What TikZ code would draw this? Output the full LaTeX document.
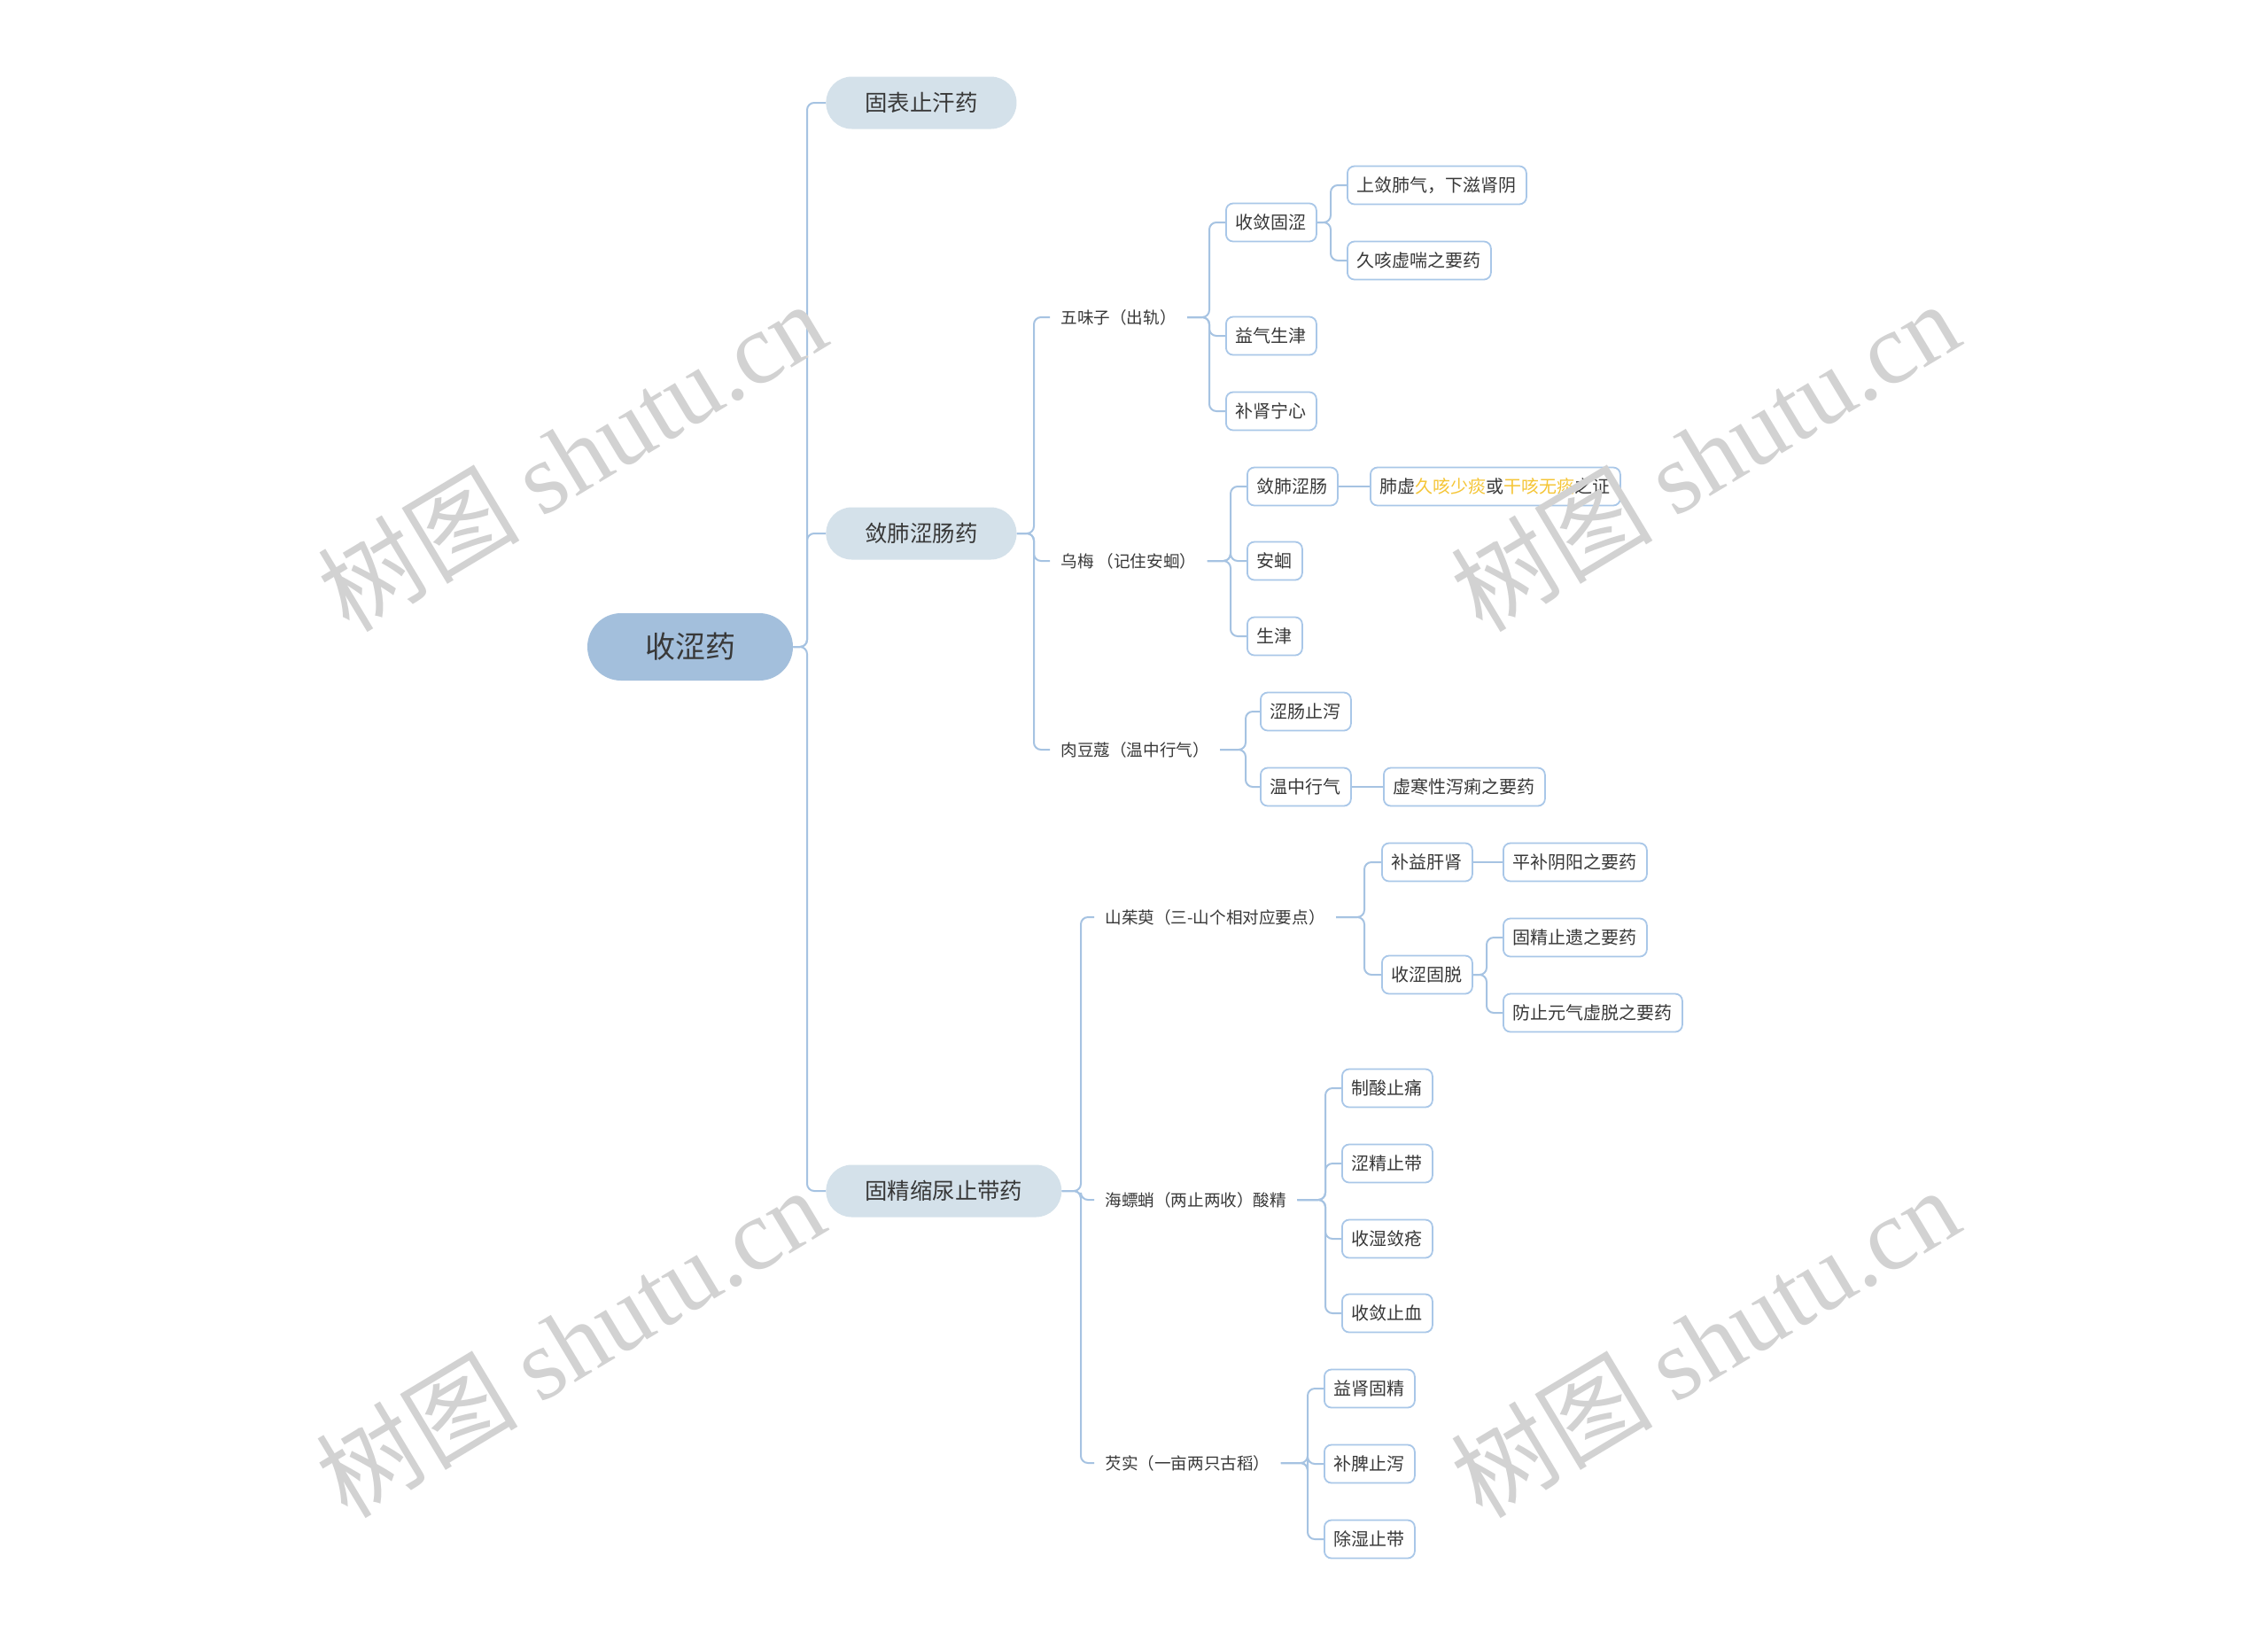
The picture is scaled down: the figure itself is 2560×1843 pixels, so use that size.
\documentclass[tikz,border=0pt]{standalone}
\usepackage{fontspec}
\setmainfont{Noto Sans CJK SC}
\newfontfamily\wmserif{Liberation Serif}
\usepackage{tikz}
\usetikzlibrary{positioning}

\definecolor{rootfill}{HTML}{A3BFDC}
\definecolor{topicfill}{HTML}{D4E1EA}
\definecolor{linkblue}{HTML}{A6C3E2}
\definecolor{boxline}{HTML}{A9C7E8}
\definecolor{inkgray}{HTML}{383838}
\definecolor{hilite}{HTML}{F5C535}
\definecolor{wmgray}{HTML}{D2D2D2}

\tikzset{
  rootnode/.style={fill=rootfill, rounded corners=19pt, minimum width=116pt,
    minimum height=38pt, text=inkgray, font=\fontsize{17pt}{20pt}\selectfont},
  topic/.style={fill=topicfill, rounded corners=14.5pt, minimum height=29.5pt,
    inner xsep=22pt, text=inkgray, font=\fontsize{12.7pt}{15pt}\selectfont},
  subtopic/.style={inner xsep=6pt, inner ysep=2pt, text=inkgray,
    font=\fontsize{9.3pt}{11pt}\selectfont},
  leaf/.style={draw=boxline, line width=0.9pt, fill=white, rounded corners=4pt,
    minimum height=21.5pt, inner xsep=5.5pt, text=inkgray,
    font=\fontsize{10pt}{12pt}\selectfont},
  link/.style={draw=linkblue, line width=1pt, rounded corners=4pt},
  wmark/.style={text=wmgray, rotate=31, font=\fontsize{57pt}{64pt}\selectfont}
}

\begin{document}
\begin{tikzpicture}[x=0.5pt, y=-0.5pt]
  \useasboundingbox[fill=white] (0,0) rectangle (2560,1843);

  % root and main branches
  \node[rootnode] (shese) at (779,730) {收涩药};
  \node[topic, anchor=west] (gubiao) at (932,116) {固表止汗药};
  \node[topic, anchor=west] (lianfei) at (932,602) {敛肺涩肠药};
  \node[topic, anchor=west] (gujing) at (932,1344) {固精缩尿止带药};

  % 敛肺涩肠药
  \node[subtopic, anchor=west] (wuwei) at (1185,358) {五味子（出轨）};
  \node[subtopic, anchor=west] (wumei) at (1185,633) {乌梅 （记住安蛔）};
  \node[subtopic, anchor=west] (roudou) at (1185,846) {肉豆蔻（温中行气）};

  \node[leaf, anchor=west] (shoulian) at (1383,251) {收敛固涩};
  \node[leaf, anchor=west] (yiqi) at (1383,379) {益气生津};
  \node[leaf, anchor=west] (bushen) at (1383,464) {补肾宁心};
  \node[leaf, anchor=west] (shangl) at (1520,209) {上敛肺气，下滋肾阴};
  \node[leaf, anchor=west] (jiuke) at (1520,294) {久咳虚喘之要药};

  \node[leaf, anchor=west] (lianchang) at (1407,549) {敛肺涩肠};
  \node[leaf, anchor=west] (anhui) at (1407,633) {安蛔};
  \node[leaf, anchor=west] (shengjin) at (1407,718) {生津};
  \node[leaf, anchor=west] (feixu) at (1546,549)
    {肺虚{\color{hilite}久咳少痰}或{\color{hilite}干咳无痰}之证};

  \node[leaf, anchor=west] (sechang) at (1422,803) {涩肠止泻};
  \node[leaf, anchor=west] (wenzhong) at (1422,888) {温中行气};
  \node[leaf, anchor=west] (xuhan) at (1561,888) {虚寒性泻痢之要药};

  % 固精缩尿止带药
  \node[subtopic, anchor=west] (shanzhu) at (1235,1035) {山茱萸（三-山个相对应要点）};
  \node[subtopic, anchor=west] (haipiao) at (1235,1354) {海螵蛸（两止两收）酸精};
  \node[subtopic, anchor=west] (qianshi) at (1235,1651) {芡实（一亩两只古稻）};

  \node[leaf, anchor=west] (buyi) at (1559,973) {补益肝肾};
  \node[leaf, anchor=west] (shouse) at (1559,1100) {收涩固脱};
  \node[leaf, anchor=west] (pingbu) at (1696,973) {平补阴阳之要药};
  \node[leaf, anchor=west] (guyi) at (1696,1058) {固精止遗之要药};
  \node[leaf, anchor=west] (fangzhi) at (1696,1143) {防止元气虚脱之要药};

  \node[leaf, anchor=west] (zhisuan) at (1514,1228) {制酸止痛};
  \node[leaf, anchor=west] (sejing) at (1514,1313) {涩精止带};
  \node[leaf, anchor=west] (shoushi) at (1514,1398) {收湿敛疮};
  \node[leaf, anchor=west] (shouxue) at (1514,1482) {收敛止血};

  \node[leaf, anchor=west] (yishen) at (1494,1567) {益肾固精};
  \node[leaf, anchor=west] (bupi) at (1494,1652) {补脾止泻};
  \node[leaf, anchor=west] (chushi) at (1494,1737) {除湿止带};

  % junctions
  \coordinate (j0) at (911,730);
  \coordinate (j1) at (1167,602);
  \coordinate (j2) at (1365,358);
  \coordinate (j3) at (1502,251);
  \coordinate (j4) at (1389,633);
  \coordinate (j5) at (1406,846);
  \coordinate (j6) at (1220,1344);
  \coordinate (j7) at (1540,1035);
  \coordinate (j8) at (1678,1100);
  \coordinate (j9) at (1496,1354);
  \coordinate (j10) at (1476,1651);

  % connectors
  \foreach \kid in {gubiao,lianfei,gujing}
    \draw[link] (shese.east) -- (j0) |- (\kid.west);
  \foreach \kid in {wuwei,wumei,roudou}
    \draw[link] (lianfei.east) -- (j1) |- (\kid.west);
  \foreach \kid in {shoulian,yiqi,bushen}
    \draw[link] (wuwei.east) -- (j2) |- (\kid.west);
  \foreach \kid in {shangl,jiuke}
    \draw[link] (shoulian.east) -- (j3) |- (\kid.west);
  \foreach \kid in {lianchang,anhui,shengjin}
    \draw[link] (wumei.east) -- (j4) |- (\kid.west);
  \foreach \kid in {sechang,wenzhong}
    \draw[link] (roudou.east) -- (j5) |- (\kid.west);
  \draw[link] (lianchang) -- (feixu);
  \draw[link] (wenzhong) -- (xuhan);

  \foreach \kid in {shanzhu,haipiao,qianshi}
    \draw[link] (gujing.east) -- (j6) |- (\kid.west);
  \foreach \kid in {buyi,shouse}
    \draw[link] (shanzhu.east) -- (j7) |- (\kid.west);
  \foreach \kid in {guyi,fangzhi}
    \draw[link] (shouse.east) -- (j8) |- (\kid.west);
  \draw[link] (buyi) -- (pingbu);
  \foreach \kid in {zhisuan,sejing,shoushi,shouxue}
    \draw[link] (haipiao.east) -- (j9) |- (\kid.west);
  \foreach \kid in {yishen,bupi,chushi}
    \draw[link] (qianshi.east) -- (j10) |- (\kid.west);

  % watermark
  \node[wmark] (wm1) at (645,514) {树图 {\wmserif shutu.cn}};
  \node[wmark] (wm2) at (1924,514) {树图 {\wmserif shutu.cn}};
  \node[wmark] (wm3) at (643,1514) {树图 {\wmserif shutu.cn}};
  \node[wmark] (wm4) at (1924,1514) {树图 {\wmserif shutu.cn}};
\end{tikzpicture}
\end{document}
